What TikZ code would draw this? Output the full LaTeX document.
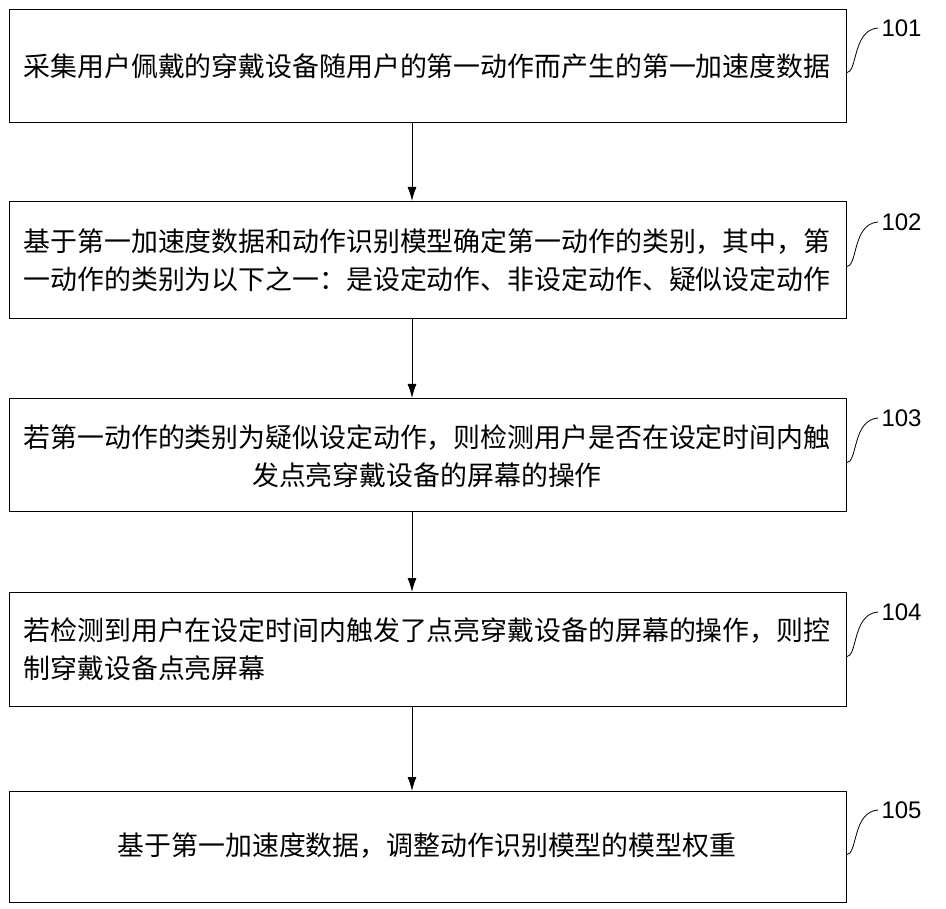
\documentclass[tikz,border=0pt]{standalone}
\usepackage{fontspec}
\setmainfont{Liberation Sans}
\newfontfamily\cjk{Noto Sans CJK SC}
\begin{document}
\begin{tikzpicture}[x=1pt,y=-1pt,
  box/.style={draw,line width=1pt,minimum width=837pt,anchor=north west,inner sep=0pt},
  txt/.style={font=\cjk\fontsize{26.9}{38}\selectfont,align=left},
  arr/.style={-{Latex[length=14pt,width=9pt]},line width=1pt},
  lab/.style={font=\fontsize{24}{26}\selectfont}]
\usetikzlibrary{arrows.meta}
\useasboundingbox (0,0) rectangle (946,909);
\node[box,minimum height=113pt] (b1) at (9,9) {};
\node[box,minimum height=117pt] (b2) at (9,201) {};
\node[box,minimum height=113pt] (b3) at (9,398) {};
\node[box,minimum height=114pt] (b4) at (9,592) {};
\node[box,minimum height=111pt] (b5) at (9,791) {};
\node[txt] (t1) at (427,66) {采集用户佩戴的穿戴设备随用户的第一动作而产生的第一加速度数据};
\node[txt] (t2) at (427,260) {基于第一加速度数据和动作识别模型确定第一动作的类别，其中，第\\一动作的类别为以下之一：是设定动作、非设定动作、疑似设定动作};
\node[txt,align=center] (t3) at (427,456) {若第一动作的类别为疑似设定动作，则检测用户是否在设定时间内触\\发点亮穿戴设备的屏幕的操作};
\node[txt] (t4) at (427,649) {若检测到用户在设定时间内触发了点亮穿戴设备的屏幕的操作，则控\\制穿戴设备点亮屏幕};
\node[txt] (t5) at (427,846) {基于第一加速度数据，调整动作识别模型的模型权重};
\draw[arr] (b1.south -| 412,0) -- (b2.north -| 412,0);
\draw[arr] (b2.south -| 412,0) -- (b3.north -| 412,0);
\draw[arr] (b3.south -| 412,0) -- (b4.north -| 412,0);
\draw[arr] (b4.south -| 412,0) -- (b5.north -| 412,0);
\foreach \n/\y/\l in {1/28/101,2/222/102,3/418/103,4/612/104,5/810/105}{
  \node[lab,anchor=west] (l\n) at (878,\y) {\l};
  \draw[line width=0.8pt] (846,\y+45) .. controls (858,\y+45) and (852,\y+2) .. (l\n.west);
}
\end{tikzpicture}
\end{document}
